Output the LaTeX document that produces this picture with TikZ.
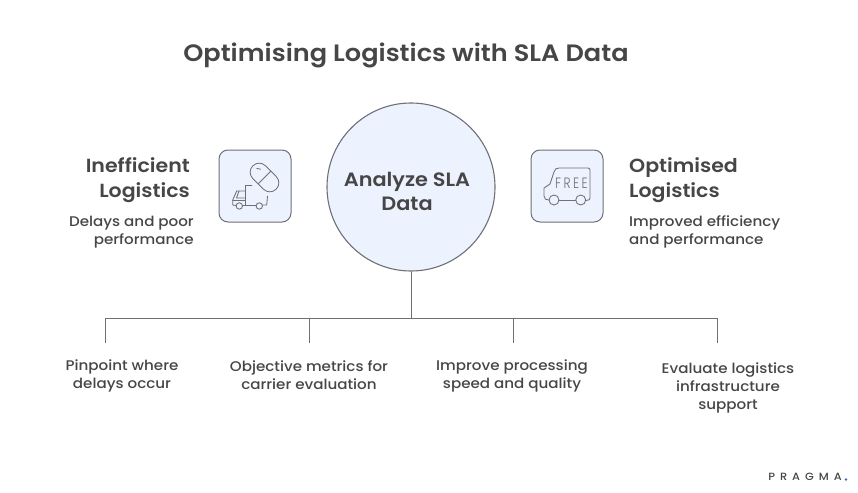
\documentclass[tikz,border=0pt]{standalone}
\usepackage{fontspec}
\setmainfont{Poppins Medium}[BoldFont={Poppins SemiBold},FakeStretch=1.08]
\newfontfamily\freefont{Poppins Light}[FakeStretch=0.8]
\definecolor{ink}{HTML}{464646}
\definecolor{edge}{HTML}{6E7074}
\definecolor{fillb}{HTML}{EDF3FE}
\definecolor{dotb}{HTML}{3F68C8}
\tikzset{
  x=1pt,y=-1pt,
  tile/.style={draw=edge,fill=fillb,line width=1pt,rounded corners=9pt,minimum size=72pt,inner sep=0pt},
  hub/.style={circle,draw=edge,fill=fillb,line width=1.1pt,minimum size=168pt,inner sep=0pt},
  hubtext/.style={align=center,text=ink,inner sep=0pt,font=\bfseries\fontsize{19.3}{24}\selectfont},
  head/.style={text=ink,font=\bfseries\fontsize{19}{24.5}\selectfont,inner sep=0pt},
  body/.style={text=ink,font=\fontsize{14}{18}\selectfont,inner sep=0pt},
  wire/.style={draw=edge,line width=1pt},
  ico/.style={draw=edge,line width=.85pt,line cap=round,line join=round,fill=none},
}
\begin{document}
\begin{tikzpicture}
\useasboundingbox (0,0) rectangle (858,492);
\node[text=ink,font=\bfseries\fontsize{23.7}{28}\selectfont,inner sep=0pt] (title) at (406,55) {Optimising Logistics with SLA Data};
\node[hub] (c) at (411,187) {};
\node[hubtext] (ct) at (407,191) {Analyze SLA\\Data};
\node[tile] (t1) at (255,186) {};
\node[tile] (t2) at (567,186) {};
\node[head,align=right,anchor=east] (h1) at (190,180) {Inefficient\\Logistics};
\node[body,align=right,anchor=east] (b1) at (194,232) {Delays and poor\\performance};
\node[head,align=left,anchor=west] (h2) at (629,180) {Optimised\\Logistics};
\node[body,align=left,anchor=west] (b2) at (629,232) {Improved efficiency\\and performance};
% connectors
\coordinate (j) at (411,318);
\coordinate (a1) at (105,318); \coordinate (a2) at (309,318);
\coordinate (a3) at (513,318); \coordinate (a4) at (717,318);
\coordinate (e1) at (105,343); \coordinate (e2) at (309,343);
\coordinate (e3) at (513,343); \coordinate (e4) at (717,343);
\draw[wire] (c.south) -- (j);
\draw[wire] (e1) -- (a1) -- (a4) -- (e4);
\draw[wire] (a2) -- (e2);
\draw[wire] (a3) -- (e3);
\node[body,align=center] (l1) at (122,376) {Pinpoint where\\delays occur};
\node[body,align=center] (l2) at (309,375) {Objective metrics for\\carrier evaluation};
\node[body,align=center] (l3) at (512,376) {Improve processing\\speed and quality};
\node[body,align=center] (l4) at (728,388) {Evaluate logistics\\infrastructure\\support};
% pill
\begin{scope}[shift={(264.5,177.5)},rotate=-45]
 \draw[ico,rounded corners=8.9pt] (-16.5,-9) rectangle (16.5,9);
 \draw[ico] (0,-9) -- (0,9);
\end{scope}
\draw[ico] (256.8,168.4) -- (260.5,169.2);
% truck
\draw[ico] (252,185) -- (245,185) -- (245,205);
\draw[ico] (245,191) -- (236.7,191) -- (232.7,200) -- (232.7,205) -- (236,205.5);
\draw[ico] (239,191) -- (236.5,198) -- (245,198);
\draw[ico] (232.7,200.5) -- (245,200.5);
\draw[ico] (242.5,205) -- (256,205);
\draw[ico] (262.5,205) -- (266.7,205) -- (267.5,196);
\draw[ico] (239.3,206) circle (3.2pt);
\draw[ico] (259.3,206) circle (3.2pt);
% van
\draw[ico] (549,200) .. controls (546,200) and (544,199) .. (544,196) -- (544,188) -- (550,184) -- (554,172) .. controls (555,169) and (556,168) .. (559,168) -- (588,168) .. controls (589.5,168) and (590,169) .. (590,170) -- (590,198) .. controls (590,199.5) and (589,200.5) .. (586,200.5);
\draw[ico] (559,200.5) -- (575.5,200.5);
\draw[ico] (554,200) circle (5pt);
\draw[ico] (580.7,200) circle (5pt);
\node[text=edge,font=\freefont\fontsize{15}{15}\selectfont,inner sep=0pt] (free) at (571.5,183.5) {F\kern2.5ptR\kern2.5ptE\kern2.5ptE};
% logo
\node[text=ink,font=\fontsize{10.5}{12}\selectfont,inner sep=0pt,anchor=east] (logo) at (842,477) {P\kern5pt R\kern5pt A\kern5pt G\kern5pt M\kern5pt A};
\fill[dotb] (846,479.5) circle (1.4pt);
\end{tikzpicture}
\end{document}
